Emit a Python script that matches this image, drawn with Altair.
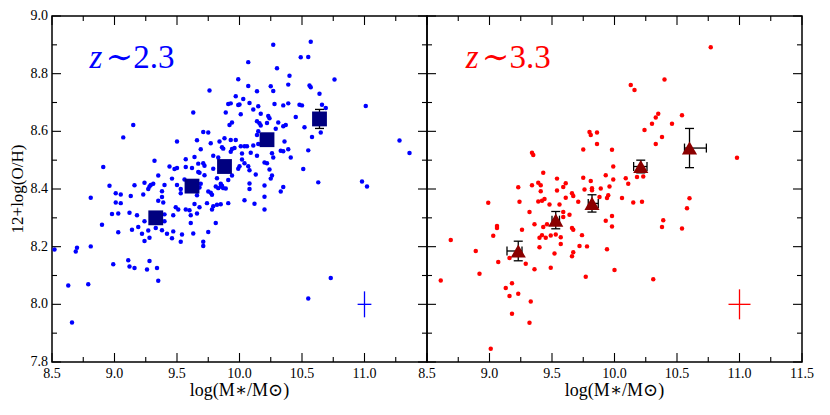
import altair as alt
import pandas as pd

FONT = "Liberation Serif, Times New Roman, DejaVu Serif, serif"

# ---------------- data ----------------
blue_x = [10.27, 10.57, 10.07, 10.49, 10.55, 10.30, 10.40, 9.99, 10.76, 10.07, 10.25, 10.27, 10.39, 10.56, 10.57, 10.14, 10.64, 9.97, 10.03,
          9.76,
          9.91, 9.93, 9.99, 10.00, 10.08, 10.15, 10.28, 10.35, 10.39, 10.48, 10.50, 10.66, 10.69,
          9.89, 10.01, 10.11, 10.17, 10.23, 10.24, 10.45,
          9.92, 9.94, 10.14, 10.16, 10.17, 10.22, 10.31, 10.35, 10.37, 10.29, 10.52, 10.15, 10.14, 10.58, 10.65,
          9.93, 9.97, 9.94, 9.96, 10.01, 10.04, 10.06, 9.93, 10.02, 10.09, 10.11, 10.15, 10.36, 10.33, 10.35, 10.39, 10.26, 10.27, 10.41, 10.14, 10.55,
          10.02, 10.04, 10.07, 10.00, 9.99, 10.08, 10.20, 10.22, 10.24, 10.13, 10.26, 10.25, 10.51, 9.91, 9.94,
          10.08, 10.08, 10.20, 10.35, 10.33, 10.63, 10.20, 10.04, 9.91, 10.12, 9.89,
          9.63, 9.15, 9.07, 9.50, 9.71, 9.75, 9.66, 9.77, 9.84, 9.86, 9.87, 9.69, 9.79, 9.83, 9.88,
          9.32, 8.91, 9.44, 9.48, 9.50, 9.57, 9.64, 9.62, 9.67, 9.71, 9.72, 9.67, 9.68, 9.72, 9.57, 9.79, 9.35, 9.46, 9.50, 9.53, 9.53,
          9.40, 9.24, 9.29, 9.28, 9.27, 9.23, 9.31, 9.16, 8.96, 9.01, 9.05, 9.13, 9.38, 9.38, 9.39, 9.35, 9.56, 9.69, 9.68, 9.66,
          9.75, 9.77, 9.78, 9.74, 9.81, 9.83, 9.85, 9.87, 9.82, 9.85, 9.86,
          8.98, 9.03, 9.12, 9.18, 9.24, 9.40, 9.40, 9.47, 9.49, 9.51, 9.57, 9.60, 9.64, 9.68, 9.61, 9.66, 9.78, 9.79, 9.82, 9.85, 9.61, 9.81,
          9.14, 9.19, 9.22, 9.27, 9.24, 9.28, 9.33, 9.38, 9.42, 9.46, 9.47, 9.53, 9.54, 9.63, 9.75, 9.71, 9.71, 9.28, 9.16, 9.26, 9.34, 9.35, 10.20,
          8.52, 8.63, 8.66, 8.69, 8.70, 8.79, 8.81, 8.81, 8.90, 8.99, 9.03, 9.01, 9.05, 9.11, 9.12,
          11.01, 11.28, 11.36, 10.98, 11.02, 10.73, 10.55]
blue_y = [8.900, 8.911, 8.840, 8.857, 8.858, 8.819, 8.793, 8.781, 8.780, 8.757, 8.756, 8.740, 8.762, 8.759, 8.753, 8.739, 8.730, 8.722, 8.712,
          8.742,
          8.695, 8.697, 8.691, 8.693, 8.698, 8.687, 8.695, 8.690, 8.697, 8.692, 8.690, 8.692, 8.681,
          8.665, 8.659, 8.676, 8.661, 8.653, 8.645, 8.650,
          8.622, 8.631, 8.635, 8.628, 8.620, 8.629, 8.631, 8.618, 8.622, 8.609, 8.614, 8.600, 8.587, 8.580, 8.596,
          8.570, 8.570, 8.539, 8.542, 8.548, 8.548, 8.548, 8.529, 8.523, 8.526, 8.551, 8.556, 8.565, 8.533, 8.531, 8.538, 8.524, 8.509, 8.509, 8.515, 8.534,
          8.502, 8.489, 8.479, 8.479, 8.470, 8.465, 8.492, 8.489, 8.468, 8.450, 8.447, 8.436, 8.469, 8.431, 8.447,
          8.419, 8.400, 8.412, 8.407, 8.391, 8.423, 8.373, 8.361, 8.351, 8.349, 8.402,
          8.665, 8.622, 8.579, 8.565, 8.598, 8.596, 8.569, 8.559, 8.565, 8.545, 8.540, 8.538, 8.515, 8.509, 8.576,
          8.498, 8.476, 8.478, 8.469, 8.473, 8.503, 8.511, 8.473, 8.488, 8.489, 8.481, 8.459, 8.456, 8.448, 8.476, 8.470, 8.447, 8.436, 8.414, 8.400, 8.385,
          8.414, 8.422, 8.414, 8.409, 8.400, 8.381, 8.418, 8.413, 8.411, 8.385, 8.381, 8.376, 8.392, 8.372, 8.353, 8.359, 8.433, 8.418, 8.405, 8.378,
          8.391, 8.387, 8.380, 8.351, 8.409, 8.403, 8.409, 8.403, 8.437, 8.418, 8.411,
          8.313, 8.315, 8.318, 8.309, 8.288, 8.312, 8.288, 8.309, 8.337, 8.329, 8.329, 8.326, 8.348, 8.337, 8.309, 8.315, 8.329, 8.340, 8.345, 8.347, 8.282, 8.282,
          8.259, 8.268, 8.245, 8.256, 8.220, 8.231, 8.265, 8.257, 8.245, 8.229, 8.253, 8.217, 8.242, 8.246, 8.251, 8.217, 8.202, 8.150, 8.126, 8.121, 8.126, 8.082, 8.329,
          8.190, 8.065, 7.937, 8.183, 8.196, 8.070, 8.201, 8.370, 8.276, 8.139, 8.250, 8.353, 8.351, 8.153, 8.131,
          8.688, 8.568, 8.525, 8.426, 8.409, 8.091, 8.020]

red_x = [9.34, 9.35, 9.80, 9.81, 9.86, 9.86, 9.75, 9.98, 9.99, 9.43, 9.93, 9.99, 9.23, 9.34, 9.39, 9.41, 9.54, 9.61, 9.59, 9.54, 9.41,
         9.75, 9.81, 9.76, 9.82, 9.82, 9.89, 9.96, 9.66, 9.67, 9.61, 9.88, 9.94, 9.95, 10.06, 8.99, 9.24, 9.39, 9.42, 9.44, 9.48, 9.56, 9.71,
         9.32, 9.36, 9.59, 9.59, 9.64, 9.98, 9.93, 9.98, 9.06, 9.06, 9.03, 9.26, 9.43, 9.46, 9.40, 9.42, 9.45, 9.49, 9.53, 9.57, 9.66, 9.67,
         9.74, 9.40, 9.57, 9.72, 9.78, 9.66, 9.67, 9.52, 9.49, 9.77, 9.94, 10.00, 8.69, 8.89, 8.61, 8.92, 9.07, 9.16, 9.29, 9.36, 9.13, 9.18,
         9.16, 9.23, 9.33, 9.18, 9.32, 9.01,
         10.77, 10.40, 10.13, 10.16, 10.35, 10.33, 10.54, 10.30, 10.46, 10.24, 10.38, 10.33, 10.98, 10.09, 10.11, 10.18, 10.23, 10.15, 10.22, 10.60,
         10.58, 10.39, 10.38, 10.54, 10.31]
red_y = [8.526, 8.518, 8.598, 8.587, 8.596, 8.556, 8.537, 8.536, 8.478, 8.456, 8.448, 8.433, 8.406, 8.413, 8.422, 8.413, 8.436, 8.420, 8.407, 8.395, 8.392,
         8.439, 8.428, 8.398, 8.403, 8.396, 8.402, 8.409, 8.385, 8.376, 8.370, 8.372, 8.369, 8.378, 8.369, 8.352, 8.356, 8.357, 8.359, 8.365, 8.346, 8.346, 8.356,
         8.320, 8.278, 8.320, 8.303, 8.311, 8.306, 8.290, 8.270, 8.272, 8.265, 8.238, 8.259, 8.268, 8.278, 8.231, 8.240, 8.231, 8.239, 8.242, 8.233, 8.265, 8.259,
         8.240, 8.198, 8.209, 8.202, 8.201, 8.167, 8.181, 8.176, 8.127, 8.096, 8.191, 8.119, 8.223, 8.185, 8.083, 8.106, 8.147, 8.161, 8.141, 8.122, 8.057, 8.073,
         8.029, 8.037, 8.010, 7.967, 7.936, 7.846,
         8.892, 8.780, 8.761, 8.743, 8.661, 8.648, 8.656, 8.626, 8.626, 8.605, 8.580, 8.556, 8.508, 8.437, 8.418, 8.442, 8.443, 8.353, 8.356, 8.368,
         8.333, 8.292, 8.268, 8.263, 8.087]

# binned means, z~2.3 (squares)
sq_x = [9.33, 9.62, 9.88, 10.22, 10.64]
sq_y = [8.300, 8.410, 8.478, 8.571, 8.643]
sq_yerr = [0.015, 0.012, 0.012, 0.015, 0.033]
sq_xerr_lo = [0.02, 0.02, 0.02, 0.02, 0.02]
sq_xerr_hi = [0.02, 0.02, 0.02, 0.02, 0.02]

# binned means, z~3.3 (triangles)
tri_x = [9.23, 9.53, 9.82, 10.21, 10.60]
tri_y = [8.185, 8.292, 8.350, 8.478, 8.542]
tri_yerr = [0.034, 0.030, 0.030, 0.022, 0.068]
tri_xerr_lo = [0.09, 0.03, 0.03, 0.057, 0.04]
tri_xerr_hi = [0.03, 0.03, 0.05, 0.05, 0.135]

# typical individual error bars
blue_err = {"x": 11.0, "y": 8.0, "xerr": 0.055, "yerr": 0.045}
red_err = {"x": 11.0, "y": 8.0, "xerr": 0.088, "yerr": 0.052}

X_DOMAIN = [8.5, 11.5]
Y_DOMAIN = [7.8, 9.0]
x_major_all = [8.5, 9.0, 9.5, 10.0, 10.5, 11.0, 11.5]
x_minor = [8.75, 9.25, 9.75, 10.25, 10.75, 11.25]
y_major = [7.8, 8.0, 8.2, 8.4, 8.6, 8.8, 9.0]
y_minor = [7.9, 8.1, 8.3, 8.5, 8.7, 8.9]
x_labels_left = ["8.5", "9.0", "9.5", "10.0", "10.5", "11.0"]
x_labels_right = ["8.5", "9.0", "9.5", "10.0", "10.5", "11.0", "11.5"]
y_labels = ["7.8", "8.0", "8.2", "8.4", "8.6", "8.8", "9.0"]

X_TITLE = "log(M\u2217/M\u2299)"
Y_TITLE = "12+log(O/H)"

W, H = 375, 346
MAJ, MIN = 9, 5  # tick lengths in pixels


def panel(px, py, pcolor, mx, my, myerr, mxlo, mxhi, mshape, msize, mcolor,
          err, ecolor, lab_x, lab_y, lab_rest, xlabels, show_y):
    xs = alt.Scale(domain=X_DOMAIN, nice=False, zero=False)
    ys = alt.Scale(domain=Y_DOMAIN, nice=False, zero=False)
    xpp = (X_DOMAIN[1] - X_DOMAIN[0]) / W   # data units per pixel
    ypp = (Y_DOMAIN[1] - Y_DOMAIN[0]) / H

    def X(f):
        return alt.X(f, scale=xs, axis=None)

    def Y(f):
        return alt.Y(f, scale=ys, axis=None)

    pts = pd.DataFrame({"x": px, "y": py})
    m = pd.DataFrame({"x": mx, "y": my,
                      "ylo": [a - b for a, b in zip(my, myerr)],
                      "yhi": [a + b for a, b in zip(my, myerr)],
                      "xlo": [a - b for a, b in zip(mx, mxlo)],
                      "xhi": [a + b for a, b in zip(mx, mxhi)]})
    capv = pd.DataFrame({"x": list(m["x"]) * 2, "y": list(m["ylo"]) + list(m["yhi"])})
    caph = pd.DataFrame({"x": list(m["xlo"]) + list(m["xhi"]), "y": list(m["y"]) * 2})
    cr = pd.DataFrame({"x": [err["x"]], "y": [err["y"]],
                       "xlo": [err["x"] - err["xerr"]], "xhi": [err["x"] + err["xerr"]],
                       "ylo": [err["y"] - err["yerr"]], "yhi": [err["y"] + err["yerr"]]})
    lab = pd.DataFrame({"x": [lab_x], "y": [lab_y], "a": ["z"], "b": [lab_rest]})

    # frame ticks, built from the tick arrays (inward from each edge)
    xt_rows = []
    for vals, L in ((x_major_all, MAJ), (x_minor, MIN)):
        for v in vals:
            xt_rows.append({"x": v, "y": Y_DOMAIN[0], "y2": Y_DOMAIN[0] + L * ypp})
            xt_rows.append({"x": v, "y": Y_DOMAIN[1], "y2": Y_DOMAIN[1] - L * ypp})
    yt_rows = []
    for vals, L in ((y_major, MAJ), (y_minor, MIN)):
        for v in vals:
            yt_rows.append({"y": v, "x": X_DOMAIN[0], "x2": X_DOMAIN[0] + L * xpp})
            yt_rows.append({"y": v, "x": X_DOMAIN[1], "x2": X_DOMAIN[1] - L * xpp})
    xt = pd.DataFrame(xt_rows)
    yt = pd.DataFrame(yt_rows)

    xlab = pd.DataFrame({"x": [float(t) for t in xlabels], "y": [Y_DOMAIN[0]] * len(xlabels), "t": xlabels})
    ylab = pd.DataFrame({"x": [X_DOMAIN[0]] * len(y_labels), "y": [float(t) for t in y_labels], "t": y_labels})
    xtit = pd.DataFrame({"x": [sum(X_DOMAIN) / 2], "y": [Y_DOMAIN[0]], "t": [X_TITLE]})
    ytit = pd.DataFrame({"x": [X_DOMAIN[0]], "y": [sum(Y_DOMAIN) / 2], "t": [Y_TITLE]})

    layers = []
    layers.append(alt.Chart(pts).mark_circle(size=20, color=pcolor, opacity=1).encode(
        x=X("x:Q"), y=Y("y:Q")))
    layers.append(alt.Chart(xt).mark_rule(color="black", strokeWidth=1.1, opacity=1).encode(
        x=X("x:Q"), y=Y("y:Q"), y2="y2:Q"))
    layers.append(alt.Chart(yt).mark_rule(color="black", strokeWidth=1.1, opacity=1).encode(
        x=X("x:Q"), x2="x2:Q", y=Y("y:Q")))

    # tick labels and axis titles
    layers.append(alt.Chart(xlab).mark_text(align="center", baseline="top", dy=5, font=FONT, fontSize=14,
                                            color="black").encode(x=X("x:Q"), y=Y("y:Q"), text="t:N"))
    layers.append(alt.Chart(xtit).mark_text(align="center", baseline="top", dy=20, font=FONT, fontSize=18,
                                            color="black").encode(x=X("x:Q"), y=Y("y:Q"), text="t:N"))
    if show_y:
        layers.append(alt.Chart(ylab).mark_text(align="right", baseline="middle", dx=-4, font=FONT, fontSize=14,
                                                color="black").encode(x=X("x:Q"), y=Y("y:Q"), text="t:N"))
        layers.append(alt.Chart(ytit).mark_text(align="center", baseline="middle", angle=270, dy=-34, font=FONT,
                                                fontSize=17, color="black").encode(x=X("x:Q"), y=Y("y:Q"), text="t:N"))

    layers.append(alt.Chart(m).mark_rule(color="black", strokeWidth=1.3).encode(
        x=X("x:Q"), y=Y("ylo:Q"), y2="yhi:Q"))
    layers.append(alt.Chart(m).mark_rule(color="black", strokeWidth=1.3).encode(
        x=X("xlo:Q"), x2="xhi:Q", y=Y("y:Q")))
    layers.append(alt.Chart(capv).mark_tick(orient="horizontal", size=9, thickness=1.3, color="black", opacity=1).encode(
        x=X("x:Q"), y=Y("y:Q")))
    layers.append(alt.Chart(caph).mark_tick(orient="vertical", size=9, thickness=1.3, color="black", opacity=1).encode(
        x=X("x:Q"), y=Y("y:Q")))
    layers.append(alt.Chart(m).mark_point(shape=mshape, size=msize, filled=True, color=mcolor, opacity=1).encode(
        x=X("x:Q"), y=Y("y:Q")))
    layers.append(alt.Chart(cr).mark_rule(color=ecolor, strokeWidth=1.3).encode(
        x=X("x:Q"), y=Y("ylo:Q"), y2="yhi:Q"))
    layers.append(alt.Chart(cr).mark_rule(color=ecolor, strokeWidth=1.3).encode(
        x=X("xlo:Q"), x2="xhi:Q", y=Y("y:Q")))
    layers.append(alt.Chart(lab).mark_text(align="left", baseline="alphabetic", font=FONT, fontSize=33,
                                           fontStyle="italic", color=pcolor).encode(
        x=X("x:Q"), y=Y("y:Q"), text="a:N"))
    layers.append(alt.Chart(lab).mark_text(align="left", baseline="alphabetic", font=FONT, fontSize=33,
                                           dx=16, color=pcolor).encode(
        x=X("x:Q"), y=Y("y:Q"), text="b:N"))
    return alt.layer(*layers).properties(width=W, height=H)


left = panel(blue_x, blue_y, "#0000ff", sq_x, sq_y, sq_yerr, sq_xerr_lo, sq_xerr_hi, "square", 220, "#00007f",
             blue_err, "#0000ff", 8.80, 8.82, "\u223c2.3", x_labels_left, True)
right = panel(red_x, red_y, "#ff0000", tri_x, tri_y, tri_yerr, tri_xerr_lo, tri_xerr_hi, "triangle-up", 230, "#8b0000",
              red_err, "#ff0000", 8.81, 8.82, "\u223c3.3", x_labels_right, False)

chart = alt.hconcat(left, right, spacing=0, bounds="flush").properties(
    padding={"left": 0, "top": 0, "right": 0, "bottom": 0}, background="white"
).configure_view(stroke="black", strokeWidth=1.5)

chart.save("out.html", embed_options={"renderer": "svg", "actions": False})
